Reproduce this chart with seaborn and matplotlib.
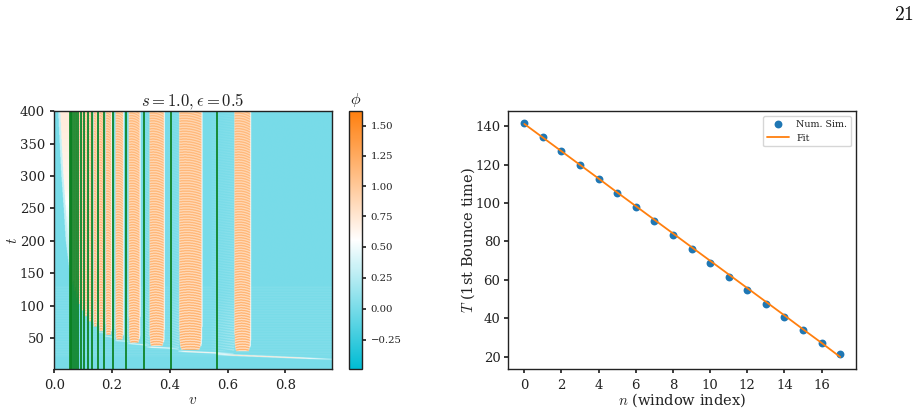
import numpy as np
import pandas as pd
import matplotlib
matplotlib.use("Agg")
import matplotlib.pyplot as plt
from matplotlib.colors import LinearSegmentedColormap, TwoSlopeNorm
import seaborn as sns

# Window index and first bounce time
window_index = list(range(18))
bounce_time = [141.7, 134.2, 127.0, 119.7, 112.3, 105.1, 97.8, 90.6, 83.4,
               76.2, 69.0, 61.8, 54.6, 47.5, 40.6, 33.8, 27.5, 21.5]
fit_time = [141.1, 134.0, 126.9, 119.8, 112.7, 105.5, 98.4, 91.3, 84.2,
            77.1, 70.0, 62.9, 55.8, 48.7, 41.6, 34.4, 27.3, 20.0]

# Resonance windows in the (v, t) scan
window_left = [0.623, 0.432, 0.329, 0.258, 0.212, 0.178, 0.155, 0.136, 0.120,
               0.106, 0.095, 0.085, 0.076, 0.069, 0.063]
window_right = [0.679, 0.510, 0.380, 0.296, 0.239, 0.198, 0.171, 0.148, 0.129,
                0.114, 0.101, 0.090, 0.081, 0.073, 0.067]
window_start = [29, 31, 37, 42, 47, 54, 60, 67, 75, 83, 92, 102, 112, 122, 132]

# Thin bright traces left by the first collision: v0, v1, t0, t1, peak value
trace_v0 = [0.56, 0.43, 0.32, 0.255, 0.21, 0.175, 0.152]
trace_v1 = [0.96, 0.62, 0.43, 0.33, 0.26, 0.21, 0.18]
trace_t0 = [24.0, 29.0, 35.5, 41.0, 45.5, 52.5, 58.5]
trace_t1 = [16.5, 25.0, 33.0, 38.0, 44.0, 50.0, 57.0]
trace_peak = [0.98, 0.8, 0.62, 0.52, 0.45, 0.38, 0.32]

# Lower edge of the long-lived state at small velocity
edge_t = [150, 200, 250, 300, 350, 400]
edge_v = [0.054, 0.040, 0.033, 0.025, 0.019, 0.014]
pale_t = [150, 220, 280, 400]
pale_phi = [0.2, 0.42, 0.62, 0.72]

# Oscillation of the field in time
stripe_cycle = [-0.26, -0.18, 0.0, 0.16, 0.22, 0.16, 0.0, -0.18]
ripple_cycle = [0.02, 0.1, 0.2, 0.28, 0.28, 0.2, 0.1, 0.02]
fade_t = [0, 60, 150, 250, 400]
fade_amp = [1.25, 1.1, 0.95, 0.85, 0.75]
inset_dt = [0, 4, 9, 18, 40]
inset_frac = [0.22, 0.12, 0.07, 0.03, 0.0]

# Critical velocities of the fitted window sequence
critical_v = [0.563, 0.404, 0.309, 0.247, 0.203, 0.172, 0.150, 0.131, 0.115,
              0.103, 0.092, 0.083, 0.075, 0.068, 0.062, 0.058, 0.054]

v_ticks = [0.0, 0.2, 0.4, 0.6, 0.8]
t_ticks = [50, 100, 150, 200, 250, 300, 350, 400]
phi_ticks = [-0.25, 0.0, 0.25, 0.5, 0.75, 1.0, 1.25, 1.5]
phi_tick_labels = ["\u22120.25", "0.00", "0.25", "0.50", "0.75", "1.00", "1.25", "1.50"]
n_ticks = [0, 2, 4, 6, 8, 10, 12, 14, 16]
time_ticks = [20, 40, 60, 80, 100, 120, 140]

V_MAX, T_MIN, T_MAX = 0.96, 1.7, 400.0
PHI_MIN, PHI_MID, PHI_MAX = -0.487, 0.55, 1.62

sns.set_theme(style="ticks", rc={
    "xtick.labelsize": 9.5, "ytick.labelsize": 9.5, "axes.labelsize": 10,
    "axes.linewidth": 1.0, "xtick.major.size": 3.2, "ytick.major.size": 3.2,
    "xtick.color": "#222222", "ytick.color": "#222222",
    "text.color": "#222222", "axes.labelcolor": "#222222",
    "axes.edgecolor": "#222222", "mathtext.fontset": "cm",
})
plt.rcParams["font.family"] = ["DejaVu Serif"]

# Field on a (t, v) grid
v_grid = np.linspace(0, V_MAX, 760)
t_grid = np.arange(T_MIN, T_MAX, 0.5)
VV, TT = np.meshgrid(v_grid, t_grid)
row_idx = np.arange(t_grid.size)[:, None] * np.ones((1, v_grid.size))
stripes = np.array(stripe_cycle)
ripples = np.array(ripple_cycle)
fade = np.interp(TT, fade_t, fade_amp)
phi = np.zeros_like(VV)

# Faint background oscillation that dies out after the collision
phi += 0.16 * ripples[row_idx.astype(int) % len(ripples)] * (TT > 20) * (TT < 130)

for i, (left, right, start) in enumerate(zip(window_left, window_right, window_start)):
    centre, half = (left + right) / 2, (right - left) / 2
    gap = (left - window_right[i + 1]) if i + 1 < len(window_left) else 0.006

    # Light wedge on the low-velocity side of each window
    wedge_l = left - 0.7 * gap
    wedge = (VV > wedge_l) & (VV < left) & (TT > start)
    ramp = np.clip((VV - wedge_l) / (0.7 * gap), 0, 1)
    height = np.interp(TT - start, [0, 40, 90, 400], [0.6, 0.55, 0.3, 0.15])
    phase = (row_idx + (ramp * 10)).astype(int) % len(ripples)
    phi = np.where(wedge, ripples[phase] * height * (0.3 + 0.7 * ramp) * 1.3, phi)

    # Striped interior, narrowed near its base
    inset = np.interp(TT - start, inset_dt, inset_frac) * half
    dist = np.abs(VV - centre)
    inside = (dist < half - inset) & (TT > start)
    offset = (VV - centre) / half
    tilt = np.interp(TT - start, [0, 100, 400], [0.0, 2.0, 6.0])
    phase = (row_idx + 5 * offset ** 2 + tilt * offset).astype(int) % len(stripes)
    values = 1.02 + stripes[phase] * fade
    edge_pale = np.clip((dist - (half - inset) + 0.0025) / 0.0025, 0, 1)
    values = values * (1 - edge_pale) + 0.8 * edge_pale
    phi = np.where(inside, values, phi)

    # White rim on the high-velocity side
    rim = (VV >= right - inset) & (VV < right - inset + 0.0025) & (TT > start + 6)
    phi = np.where(rim, 0.52, phi)

# Pale long-lived region at the smallest velocities
edge_curve = np.interp(TT, edge_t, edge_v)
pale_value = np.interp(TT, pale_t, pale_phi)
pale = (VV > edge_curve + 0.007) & (VV < 0.056) & (TT > 150)
phi = np.where(pale, pale_value, phi)
phi = np.where((VV > edge_curve) & (VV <= edge_curve + 0.007) & (TT > 150), 0.32, phi)

# Collision traces
for v0, v1, t0, t1, peak in zip(trace_v0, trace_v1, trace_t0, trace_t1, trace_peak):
    mask_v = (VV >= v0) & (VV <= v1)
    frac = np.clip((VV - v0) / (v1 - v0), 0, 1)
    centre_t = t0 + (t1 - t0) * frac
    profile = np.clip(1 - np.abs(TT - centre_t) / 1.5, 0, 1)
    strength = peak * np.interp(frac, [0, 0.15, 0.7, 1], [0.35, 1.0, 0.9, 0.25])
    phi = np.where(mask_v & (profile > 0), np.maximum(phi, strength * profile), phi)

cmap = LinearSegmentedColormap.from_list("phi_map", ["#00bcd4", "#ffffff", "#ff7f0e"])
norm = TwoSlopeNorm(vmin=PHI_MIN, vcenter=PHI_MID, vmax=PHI_MAX)

fig = plt.figure(figsize=(9.2, 4.12), dpi=100)
W, H = 920.0, 412.0


def place(x0, x1, y0, y1):
    return fig.add_axes([x0 / W, 1 - y1 / H, (x1 - x0) / W, (y1 - y0) / H])


ax_scan = place(54.3, 331.7, 111.3, 369.3)
ax_cbar = place(349.3, 362.3, 111.3, 369.3)
ax_fit = place(508.3, 856.0, 111.0, 369.3)

mesh = ax_scan.imshow(phi, origin="lower", aspect="auto", cmap=cmap, norm=norm,
                      extent=[0, V_MAX, T_MIN, T_MAX], interpolation="hanning",
                      interpolation_stage="rgba")
for v in critical_v:
    ax_scan.axvline(v, color="#0a8020", lw=1.25)
ax_scan.set_xlim(0, V_MAX)
ax_scan.set_ylim(T_MIN, T_MAX)
ax_scan.set_xticks(v_ticks)
ax_scan.set_yticks(t_ticks)
ax_scan.set_xlabel(r"$v$", labelpad=1, fontsize=11)
ax_scan.set_ylabel(r"$t$", labelpad=0, fontsize=11)
ax_scan.set_title(r"$s = 1.0, \epsilon = 0.5$", fontsize=12, pad=3)

cbar = fig.colorbar(mesh, cax=ax_cbar, spacing="proportional")
cbar.set_ticks(phi_ticks)
cbar.ax.set_yticklabels(phi_tick_labels)
cbar.ax.tick_params(labelsize=7.3, length=3, pad=3)
cbar.ax.set_title(r"$\phi$", fontsize=11.5, pad=5)

frame = pd.DataFrame({"n": window_index, "T": bounce_time, "fit": fit_time})
sns.scatterplot(data=frame, x="n", y="T", ax=ax_fit, color="#1f77b4", s=32,
                linewidth=0, label="Num. Sim.", zorder=2)
sns.lineplot(data=frame, x="n", y="fit", ax=ax_fit, color="#ff7f0e", lw=1.3,
             label="Fit", zorder=3)
ax_fit.set_xlim(-0.86, 17.85)
ax_fit.set_ylim(13.6, 147.8)
ax_fit.set_xticks(n_ticks)
ax_fit.set_yticks(time_ticks)
ax_fit.tick_params(axis="y", pad=2.5)
ax_fit.set_xlabel(r"$n$ (window index)", labelpad=0, fontsize=10.5)
ax_fit.set_ylabel(r"$T$ (1st Bounce time)", labelpad=-1.5, fontsize=10.5)
ax_fit.legend(loc="upper right", fontsize=6.8, frameon=True, borderaxespad=0.5,
              handlelength=2.3, labelspacing=0.55)

fig.text(904 / W, 1 - 20 / H, r"$\mathrm{21}$", fontsize=14, ha="center", color="#111111")

fig.savefig("out.png", dpi=100)
